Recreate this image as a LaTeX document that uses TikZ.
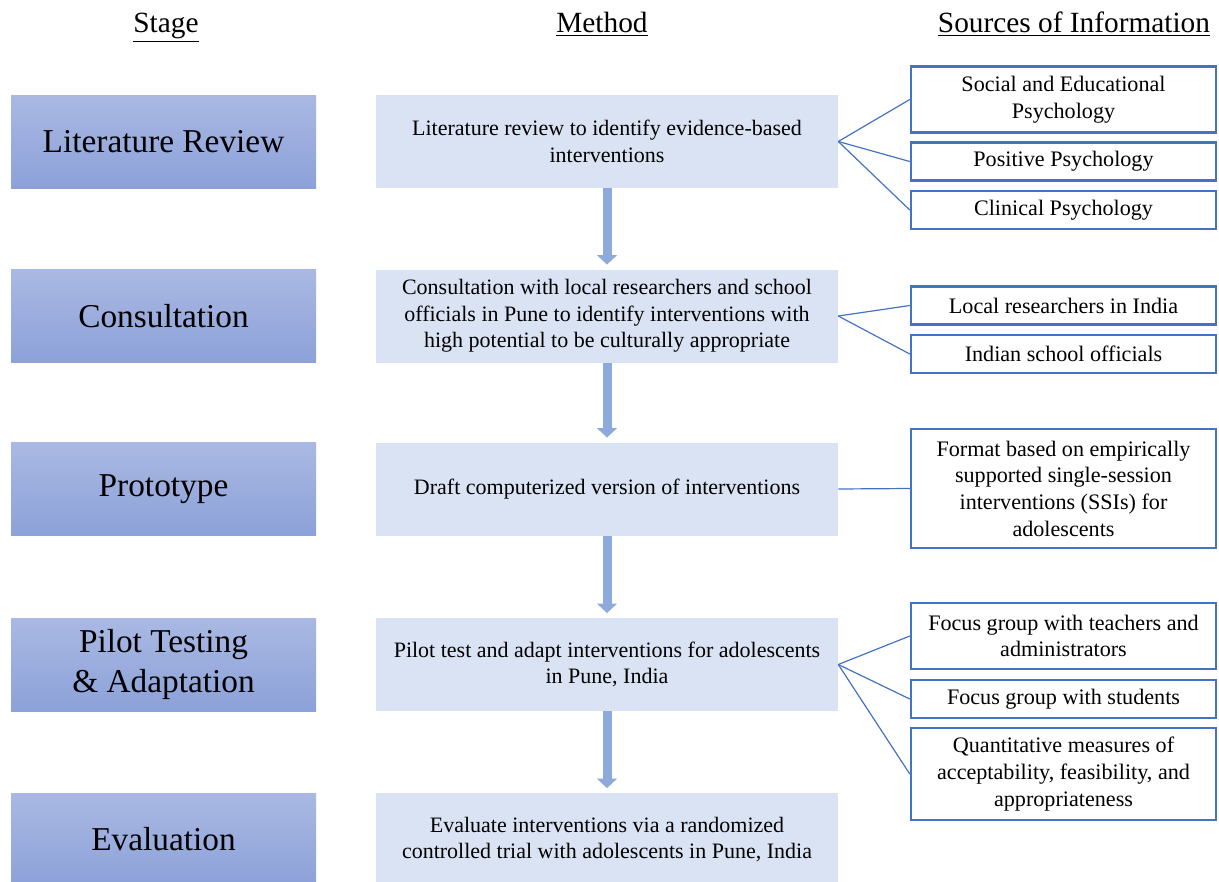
\documentclass[tikz,border=0pt]{standalone}
\usepackage{fontspec}
\setmainfont{Liberation Serif}
\usetikzlibrary{arrows.meta}
\definecolor{stagetop}{HTML}{AAB9E3}
\definecolor{stagebot}{HTML}{8CA1D9}
\definecolor{methodfill}{HTML}{DAE3F3}
\definecolor{arrowblue}{HTML}{8EA9DB}
\definecolor{linkblue}{HTML}{4472C4}
\def\headnode{\node[anchor=base,font=\fontsize{22}{26}\selectfont]}
\def\stagenode{\node[top color=stagetop,bottom color=stagebot,minimum width=228.75pt,minimum height=69.75pt,inner sep=0pt,align=center,font=\fontsize{25}{30}\selectfont]}
\def\methodnode{\node[fill=methodfill,minimum width=346.5pt,minimum height=69.75pt,inner sep=0pt,align=center,font=\fontsize{16.5}{20}\selectfont]}
\def\sourcenode{\node[draw=linkblue,line width=1.6pt,fill=white,minimum width=229pt,inner sep=0pt,align=center,font=\fontsize{16.6}{20}\selectfont]}
\def\drawstep{\draw[arrowblue,line width=6.75pt,-{Triangle[width=14.5pt,length=7pt]},shorten >=3.5pt]}
\def\drawlink{\draw[linkblue,line width=0.9pt]}

\begin{document}
\begin{tikzpicture}[x=0.75pt,y=-0.75pt]
\useasboundingbox (0,0) rectangle (1219,881);
\headnode (hstage) at (166,33) {\underline{Stage}};
\headnode (hmethod) at (602,33) {\underline{Method}};
\headnode (hsource) at (1074,33) {\underline{Sources of Information}};
\stagenode (st1) at (163.5,141.5) {Literature Review};
\stagenode (st2) at (163.5,316) {Consultation};
\stagenode (st3) at (163.5,489) {Prototype};
\stagenode (st4) at (163.5,664.5) {Pilot Testing\\\& Adaptation};
\stagenode (st5) at (163.5,839.5) {Evaluation};
\methodnode (m1) at (607,141.5) {Literature review to identify evidence-based\\interventions};
\methodnode (m2) at (607,316) {Consultation with local researchers and school\\officials in Pune to identify interventions with\\high potential to be culturally appropriate};
\methodnode (m3) at (607,489) {Draft computerized version of interventions};
\methodnode (m4) at (607,664.5) {Pilot test and adapt interventions for adolescents\\in Pune, India};
\methodnode (m5) at (607,839.5) {Evaluate interventions via a randomized\\controlled trial with adolescents in Pune, India};
\sourcenode[minimum height=49.5pt] (s1) at (1063.5,99.5) {Social and Educational\\Psychology};
\sourcenode[minimum height=28.5pt] (s2) at (1063.5,161.5) {Positive Psychology};
\sourcenode[minimum height=28.5pt] (s3) at (1063.5,210) {Clinical Psychology};
\sourcenode[minimum height=28.5pt] (s4) at (1063.5,305.5) {Local researchers in India};
\sourcenode[minimum height=28.5pt] (s5) at (1063.5,354) {Indian school officials};
\sourcenode[minimum height=89.5pt] (s6) at (1063.5,488.5) {Format based on empirically\\supported single-session\\interventions (SSIs) for\\adolescents};
\sourcenode[minimum height=50pt] (s7) at (1063.5,636) {Focus group with teachers and\\administrators};
\sourcenode[minimum height=28.5pt] (s8) at (1063.5,699) {Focus group with students};
\sourcenode[minimum height=69.5pt] (s9) at (1063.5,774) {Quantitative measures of\\acceptability, feasibility, and\\appropriateness};
\drawstep (m1) -- (m2);
\drawstep (m2) -- (m3);
\drawstep (m3) -- (m4);
\drawstep (m4) -- (m5);
\drawlink (m1.east) -- (s1.west);
\drawlink (m1.east) -- (s2.west);
\drawlink (m1.east) -- (s3.west);
\drawlink (m2.east) -- (s4.west);
\drawlink (m2.east) -- (s5.west);
\drawlink (m3.east) -- (s6.west);
\drawlink (m4.east) -- (s7.west);
\drawlink (m4.east) -- (s8.west);
\drawlink (m4.east) -- (s9.west);
\end{tikzpicture}
\end{document}
